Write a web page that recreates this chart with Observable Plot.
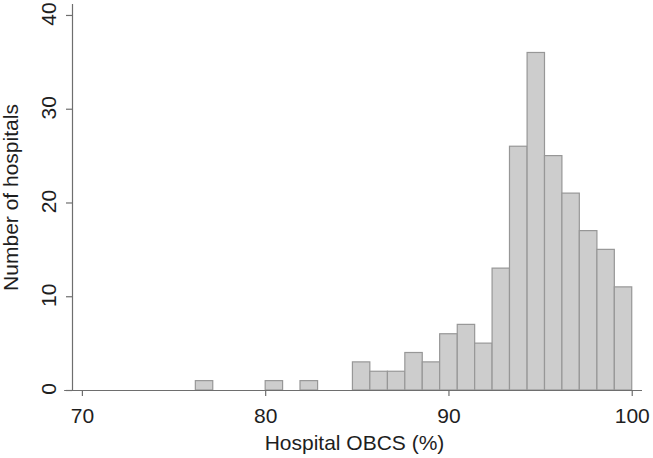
<!DOCTYPE html>
<html>
<head>
<meta charset="utf-8">
<script src="https://cdn.jsdelivr.net/npm/d3@7"></script>
<script src="https://cdn.jsdelivr.net/npm/@observablehq/plot@0.6"></script>
<style>
  html, body { margin: 0; padding: 0; background: #ffffff; }
  #chart svg { display: block; }
</style>
</head>
<body>
<div id="chart"></div>
<script>
// Histogram bins (lower and upper edges, % OBCS) and hospital counts
const binLow  = [76.19, 77.14, 78.10, 79.05, 80.00, 80.95, 81.90, 82.86, 83.81, 84.76, 85.71, 86.67, 87.62,
                 88.57, 89.52, 90.48, 91.43, 92.38, 93.33, 94.29, 95.24, 96.19, 97.14, 98.10, 99.05];
const binHigh = [77.14, 78.10, 79.05, 80.00, 80.95, 81.90, 82.86, 83.81, 84.76, 85.71, 86.67, 87.62, 88.57,
                 89.52, 90.48, 91.43, 92.38, 93.33, 94.29, 95.24, 96.19, 97.14, 98.10, 99.05, 100.00];
const counts  = [1, 0, 0, 0, 1, 0, 1, 0, 0, 3, 2, 2, 4,
                 3, 6, 7, 5, 13, 26, 36, 25, 21, 17, 15, 11];

const xTicks = [70, 80, 90, 100];
const yTicks = [0, 10, 20, 30, 40];
const xTitle = "Hospital OBCS (%)";
const yTitle = "Number of hospitals";

const xDomain = [69.46, 100.56];
const xLineStart = 69.03;
const yDomain = [0, 41.17];

const bins = binLow.map((lo, i) => ({lo, hi: binHigh[i], count: counts[i]}));

const font = "'Liberation Sans', Arial, Helvetica, sans-serif";
const axisColor = "#6e6e6e";
const textColor = "#1e1e1e";

const chart = Plot.plot({
  width: 653,
  height: 458,
  marginLeft: 72,
  marginRight: 11,
  marginTop: 4,
  marginBottom: 68,
  style: {fontFamily: font, background: "#ffffff"},
  x: {domain: xDomain, axis: null},
  y: {domain: yDomain, axis: null},
  marks: [
    Plot.rectY(bins, {
      filter: d => d.count > 0,
      x1: "lo", x2: "hi", y1: 0, y2: "count",
      fill: "#cdcdcd", stroke: "#979797", strokeWidth: 1.2
    }),
    // axis lines
    Plot.ruleX([xDomain[0]], {stroke: axisColor, strokeWidth: 1.2}),
    Plot.ruleY([0], {x1: xLineStart, x2: xDomain[1], stroke: axisColor, strokeWidth: 1.2}),
    // ticks
    Plot.axisY({ticks: yTicks, anchor: "left", tickSize: 6, tickFormat: () => "", label: null, stroke: axisColor, strokeWidth: 1.2}),
    Plot.axisX({ticks: xTicks, anchor: "bottom", tickSize: 6, tickPadding: 12, fontSize: 21, label: null,
                stroke: axisColor, strokeWidth: 1.2, fill: textColor, tickFormat: d => String(d)}),
    // y tick labels (rotated)
    Plot.text(yTicks, {
      y: d => d, text: d => String(d), frameAnchor: "left", rotate: -90,
      textAnchor: "middle", lineAnchor: "bottom", dx: -16.3, dy: -1.5, fontSize: 21, fill: textColor
    }),
    // axis titles
    Plot.text([xTitle], {
      text: d => d, frameAnchor: "bottom", textAnchor: "middle", lineAnchor: "bottom", dy: 59, dx: -3,
      fontSize: 21, fill: textColor
    }),
    Plot.text([yTitle], {
      text: d => d, frameAnchor: "left", rotate: -90, textAnchor: "middle", lineAnchor: "bottom", dx: -54.5,
      fontSize: 21, fill: textColor
    })
  ]
});

document.getElementById("chart").appendChild(chart);
</script>
</body>
</html>
